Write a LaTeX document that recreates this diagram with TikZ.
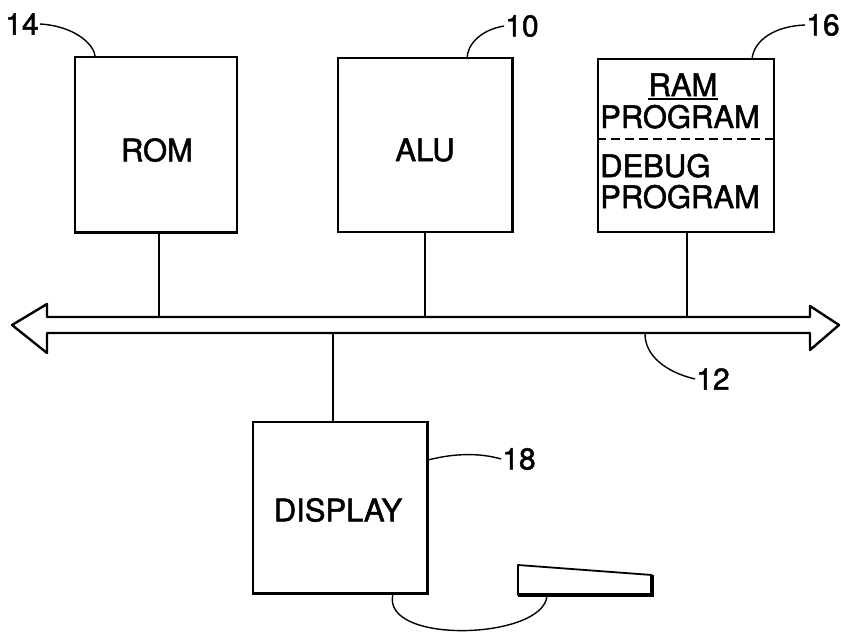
\documentclass[tikz,border=0pt]{standalone}
\usepackage{fontspec}
\setmainfont{TeX Gyre Heros}
\newfontfamily\heavysans[FakeBold=1.6]{TeX Gyre Heros}
\begin{document}
\begin{tikzpicture}[x=1pt,y=-1pt,
  box/.style={draw, line width=1.6pt, inner sep=0pt},
  txt/.style={font=\heavysans\fontsize{31}{33}\selectfont, inner sep=0pt},
  num/.style={font=\heavysans\fontsize{30}{32}\selectfont, inner sep=1pt},
  lead/.style={line width=1.4pt},
  wire/.style={line width=1.4pt},
  heavy/.style={line width=3.2pt}]
\useasboundingbox (0,0) rectangle (841,637);
% boxes
\node[box, minimum width=162pt, minimum height=175pt] (rom) at (156,144.5) {};
\node[box, minimum width=174pt, minimum height=174pt] (alu) at (425,145) {};
\node[box, minimum width=176pt, minimum height=173pt] (ram) at (686,145.5) {};
\node[box, minimum width=174pt, minimum height=171pt] (disp) at (340,507.5) {};
% heavier edges
\draw[heavy] (rom.south west) -- (rom.south east);
\draw[heavy] (alu.north east) -- (alu.south east);
\draw[heavy] (disp.north east) -- (disp.south east) -- (disp.south west);
% texts
\node[txt] (romt) at (157,150) {ROM};
\node[txt] (alut) at (425,150) {ALU};
\node[txt] (dispt) at (338,510) {DISPLAY};
\node[txt, anchor=base] (ramt) at (683,96) {RAM};
\draw[line width=1.4pt] ([yshift=-3pt]ramt.base west) -- ([yshift=-3pt]ramt.base east);
\node[txt, anchor=base west] (prog1) at (600,128) {PROGRAM};
\draw[line width=1.6pt, dash pattern=on 9pt off 5pt] (ram.west |- 0,139) coordinate (dl) -- (ram.east |- 0,139) coordinate (dr);
\node[txt, anchor=base west] (debug) at (600,177) {DEBUG};
\node[txt, anchor=base west] (prog2) at (600,208) {PROGRAM};
% bus
\coordinate (ltip) at (12,325);
\coordinate (rtip) at (839,325);
\coordinate (bustopL) at (47,317);
\coordinate (bustopR) at (810,317);
\coordinate (busbotL) at (47,333);
\coordinate (busbotR) at (810,333);
\draw[line width=2.4pt, line join=round]
  (ltip) -- (47,304) -- (bustopL) -- (bustopR) -- (810,306) -- (rtip)
  -- (810,350) -- (busbotR) -- (busbotL) -- (47,353) -- cycle;
% bus taps
\draw[wire] (rom.south -| 159,0) -- (159,317);
\draw[wire] (alu.south) -- (alu.south |- bustopL);
\draw[wire] (ram.south -| 687,0) -- (687,317);
\draw[wire] (333,333) -- (disp.north -| 333,0);
% keyboard
\coordinate (k1) at (518,565);
\coordinate (k2) at (652,575);
\coordinate (k3) at (652,595);
\coordinate (k4) at (518,595);
\draw[line width=1.8pt, line join=round] (k1) -- (k2) -- (k3) -- (k4) -- cycle;
\draw[heavy] (k4) -- (k3) -- (k2);
% cable
\draw[wire] (disp.south -| 393,0) .. controls (380,645) and (543,640) .. (547,596);
% reference numerals
\node[num] (n14) at (22,24) {14};
\node[num] (n10) at (522,26) {10};
\node[num] (n16) at (823,25) {16};
\node[num] (n12) at (713,379) {12};
\node[num] (n18) at (519,459) {18};
\draw[lead] (n14.east) .. controls (75,26) and (95,45) .. (95,57);
\draw[lead] (n10.west) .. controls (480,30) and (467,45) .. (467,59);
\draw[lead] (n16.west) .. controls (775,26) and (754,40) .. (752,59);
\draw[lead] (n12.west) .. controls (665,372) and (645,355) .. (645,334);
\draw[lead] (n18.west) .. controls (470,450) and (440,457) .. (428,460);
\end{tikzpicture}
\end{document}
